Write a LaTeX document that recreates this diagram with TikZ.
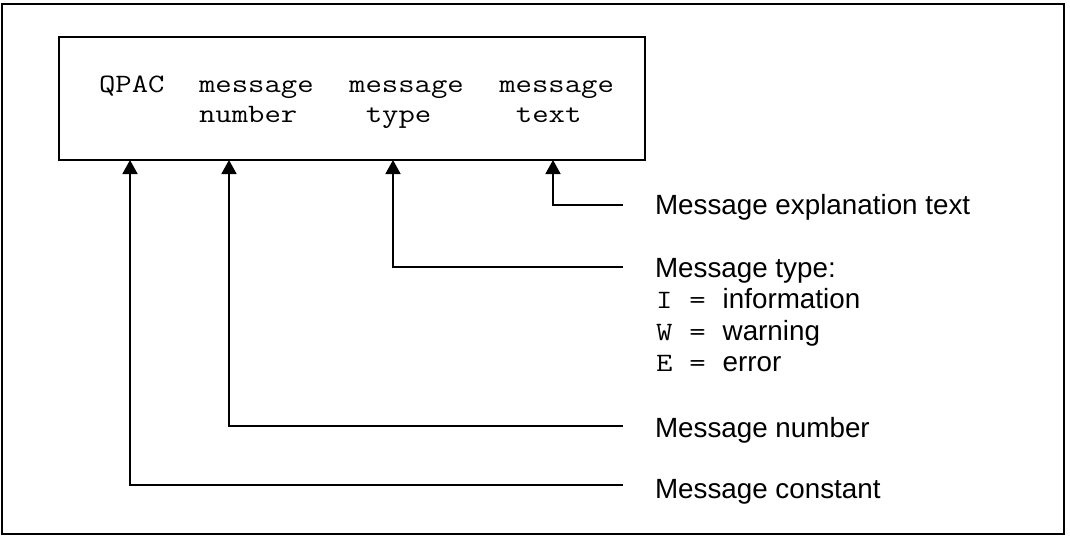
\documentclass[tikz,border=0pt]{standalone}
\usepackage{fontspec}
\setmainfont{Liberation Sans}
\setmonofont{Latin Modern Mono}[FakeStretch=1.2]
\usetikzlibrary{arrows.meta}
\begin{document}
\begin{tikzpicture}[x=1pt,y=-1pt,
  lbl/.style={anchor=base west, inner sep=0pt, outer sep=0pt, font=\fontsize{27.8}{33}\selectfont},
  mono/.style={anchor=base west, inner sep=0pt, outer sep=0pt, font=\fontsize{26.5}{33}\selectfont\ttfamily},
  conn/.style={line width=1.8pt, -{Triangle[width=15pt,length=14pt]}},
  frame/.style={line width=2pt}]
\useasboundingbox (0,0) rectangle (1070,536);
% outer frame
\draw[frame] (2,4) rectangle (1064,534);
% message box
\node[frame, draw, anchor=north west, minimum width=586pt, minimum height=123pt,
      inner sep=0pt, outer sep=0pt] (box) at (59,37) {};
% text inside the box (monospace columns, char width 16.68)
\node[mono] (q)  at (99,92)  {QPAC};
\node[mono] (m1) at (199.1,92) {message};
\node[mono] (m2) at (349.2,92) {message};
\node[mono] (m3) at (499.3,92) {message};
\node[mono] (w1) at (199.1,122) {number};
\node[mono] (w2) at (365.8,122) {type};
\node[mono] (w3) at (515.9,122) {text};
% labels
\node[lbl] (lE) at (655,214) {Message explanation text};
\node[lbl] (lT) at (655,277) {Message type:};
\node[mono] (iI) at (656,308.5) {I};
\node[mono] (eI) at (689.4,308.5) {=};
\node[lbl] (tI) at (722.7,308.5) {information};
\node[mono] (iW) at (656,340) {W};
\node[mono] (eW) at (689.4,340) {=};
\node[lbl] (tW) at (722.7,340) {warning};
\node[mono] (iE) at (656,371.5) {E};
\node[mono] (eE) at (689.4,371.5) {=};
\node[lbl] (tE2) at (722.7,371.5) {error};
\node[lbl] (lN) at (655,437) {Message number};
\node[lbl] (lC) at (655,498) {Message constant};
% connector ends
\coordinate (aE) at (623,205);
\coordinate (aT) at (623,267);
\coordinate (aN) at (623,426);
\coordinate (aC) at (623,485);
\path (box.south west) ++(494,0) coordinate (tE);
\path (box.south west) ++(334,0) coordinate (tT);
\path (box.south west) ++(170,0) coordinate (tN);
\path (box.south west) ++(71,0)  coordinate (tC);
% connectors
\draw[conn] (aE) -| (tE);
\draw[conn] (aT) -| (tT);
\draw[conn] (aN) -| (tN);
\draw[conn] (aC) -| (tC);
\end{tikzpicture}
\end{document}
